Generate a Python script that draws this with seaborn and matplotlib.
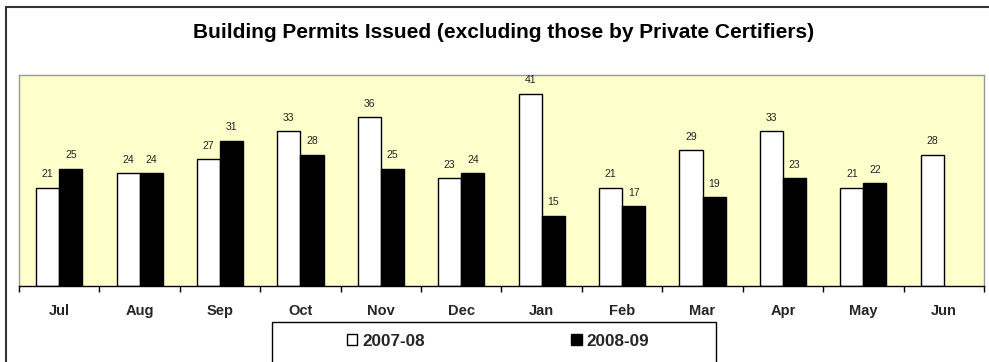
import matplotlib
matplotlib.use("Agg")
import matplotlib.pyplot as plt
import seaborn as sns
import pandas as pd
from matplotlib.patches import Patch, Rectangle
from matplotlib.lines import Line2D

months = ["Jul", "Aug", "Sep", "Oct", "Nov", "Dec", "Jan", "Feb", "Mar", "Apr", "May", "Jun"]
series_names = ["2007-08", "2008-09"]
values_0708 = [21, 24, 27, 33, 36, 23, 41, 21, 29, 33, 21, 28]
values_0809 = [25, 24, 31, 28, 25, 24, 15, 17, 19, 23, 22, None]
title = "Building Permits Issued (excluding those by Private Certifiers)"

rows = []
for m, v in zip(months, values_0708):
    rows.append({"month": m, "season": series_names[0], "value": v})
for m, v in zip(months, values_0809):
    if v is not None:
        rows.append({"month": m, "season": series_names[1], "value": v})
df = pd.DataFrame(rows)

sns.set_theme(style="white")
plt.rcParams['font.family'] = ['Liberation Sans', 'DejaVu Sans']

W, H = 989, 362
fig = plt.figure(figsize=(W / 100, H / 100), dpi=100)
fig.patch.set_facecolor("white")
ax = fig.add_axes([19 / W, 1 - 286 / H, (984 - 19) / W, (286 - 75) / H])
ax.set_facecolor("#FFFFCC")

palette = {series_names[0]: "white", series_names[1]: "black"}
sns.barplot(data=df, x="month", y="value", hue="season", order=months,
            hue_order=series_names, palette=palette, edgecolor="black",
            linewidth=1.0, width=0.575, legend=False, ax=ax, saturation=1)

for cont in ax.containers:
    ax.bar_label(cont, fmt="%d", padding=6, fontsize=7.5, color="#222222")

ax.set_ylim(0, 45)
ax.set_xlim(-0.5, len(months) - 0.5)
ax.set_xlabel("")
ax.set_ylabel("")
ax.set_yticks([])

ax.set_xticks([i - 0.5 for i in range(len(months) + 1)])
ax.set_xticklabels([])
ax.set_xticks(range(len(months)), minor=True)
ax.set_xticklabels(months, minor=True, fontweight="bold", fontsize=10.5)
ax.tick_params(axis="x", which="major", length=4, width=1, color="black", direction="out", bottom=True)
ax.tick_params(axis="x", which="minor", length=0, pad=13, bottom=True)

for side in ["left", "top", "right"]:
    ax.spines[side].set_color("#999999")
    ax.spines[side].set_linewidth(1.0)
ax.spines["bottom"].set_color("black")
ax.spines["bottom"].set_linewidth(1.0)

fig.text(504 / W, 1 - 33 / H, title, ha="center", va="center",
         fontsize=15, fontweight="bold", color="black")

# outer chart border
fig.add_artist(Line2D([6 / W, 6 / W], [0, 1 - 7 / H], transform=fig.transFigure,
                      color="#333333", linewidth=1.5))
fig.add_artist(Line2D([6 / W, 1], [1 - 7 / H, 1 - 7 / H], transform=fig.transFigure,
                      color="#333333", linewidth=1.5))

# legend box
fig.add_artist(Rectangle((272 / W, -0.05), (716 - 272) / W, 0.05 + 1 - 322 / H,
                         transform=fig.transFigure, facecolor="white",
                         edgecolor="black", linewidth=1.0))
handles = [Patch(facecolor="white", edgecolor="black", linewidth=1.0, label=series_names[0]),
           Patch(facecolor="black", edgecolor="black", linewidth=1.0, label=series_names[1])]
leg = fig.legend(handles=handles, loc="center", bbox_to_anchor=(498 / W, 1 - 341 / H),
                 ncol=2, frameon=False, handlelength=0.6, handleheight=0.6,
                 handletextpad=0.3, columnspacing=8.6,
                 prop={"weight": "bold", "size": 12.3})

fig.savefig("out.png", dpi=100)
